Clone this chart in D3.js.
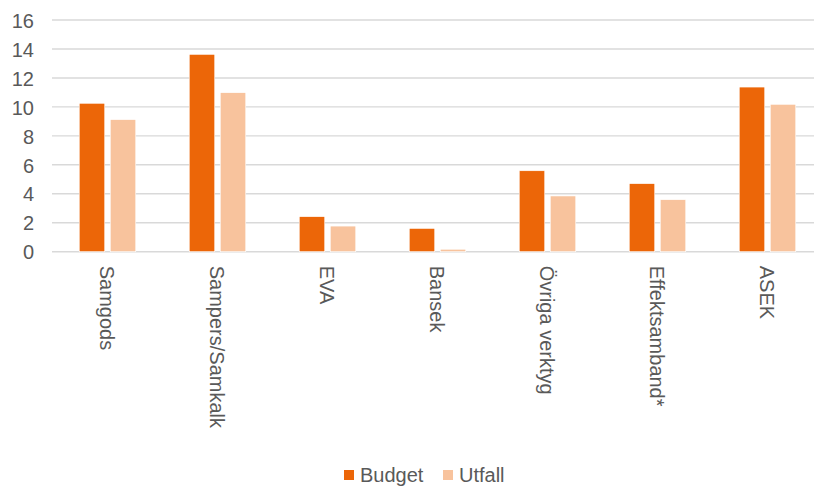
<!DOCTYPE html>
<html>
<head>
<meta charset="utf-8">
<script src="https://cdn.jsdelivr.net/npm/d3@7"></script>
<style>
  html, body { margin: 0; padding: 0; background: #fff; }
  svg { display: block; font-family: "Liberation Sans", Arial, sans-serif; }
</style>
</head>
<body>
<svg id="chart" width="814" height="487"></svg>
<script>
const categories = ["Samgods", "Sampers/Samkalk", "EVA", "Bansek", "Övriga verktyg", "Effektsamband*", "ASEK"];
const seriesNames = ["Budget", "Utfall"];
const budget = [10.25, 13.63, 2.42, 1.61, 5.59, 4.70, 11.37];
const utfall = [9.12, 10.98, 1.77, 0.17, 3.85, 3.59, 10.18];
const yTicks = [0, 2, 4, 6, 8, 10, 12, 14, 16];
const colors = ["#EC6608", "#F8C39D"];

const svg = d3.select("#chart");
const x0 = d3.scaleBand().domain(categories).range([52.5, 822.5]).paddingInner(0.486).paddingOuter(0.243);
const x1 = d3.scaleBand().domain(seriesNames).range([0, x0.bandwidth()]).paddingInner(0.177);
const y = d3.scaleLinear().domain([0, 16]).range([251.7, 20]);

// gridlines
svg.append("g").selectAll("line").data(yTicks).join("line")
  .attr("x1", 52).attr("x2", 814)
  .attr("y1", d => y(d)).attr("y2", d => y(d))
  .attr("stroke", "#d9d9d9").attr("stroke-width", 1.4);

// y axis labels
const yAxis = d3.axisLeft(y).tickValues(yTicks).tickSize(0).tickPadding(0);
const yg = svg.append("g").attr("transform", "translate(34,0)").call(yAxis);
yg.select(".domain").remove();
yg.selectAll("text").attr("font-size", 20).attr("fill", "#595959")
  .attr("font-family", "'Liberation Sans', Arial, sans-serif").attr("dy", "0.36em");

// bars
const data = categories.map((c, i) => ({ cat: c, vals: [budget[i], utfall[i]] }));
const groups = svg.append("g").selectAll("g").data(data).join("g")
  .attr("transform", d => `translate(${x0(d.cat)},0)`);
groups.selectAll("rect").data(d => d.vals.map((v, j) => ({ name: seriesNames[j], v, j })))
  .join("rect")
  .attr("x", d => x1(d.name))
  .attr("width", x1.bandwidth())
  .attr("y", d => y(d.v))
  .attr("height", d => y(0) - y(d.v))
  .attr("fill", d => colors[d.j])
  .attr("stroke", "#ffffff").attr("stroke-width", 0.6);

// x axis labels, rotated
const xAxis = d3.axisBottom(x0).tickSize(0).tickPadding(0);
const xg = svg.append("g").attr("transform", `translate(0,${y(0)})`).call(xAxis);
xg.select(".domain").remove();
xg.selectAll("text")
  .attr("font-size", 20).attr("fill", "#595959")
  .attr("font-family", "'Liberation Sans', Arial, sans-serif")
  .attr("text-anchor", "start")
  .attr("transform", "rotate(90)")
  .attr("x", 14).attr("y", 0).attr("dy", "0.36em");

// legend
const legend = svg.append("g");
const legendItems = [{ name: "Budget", x: 344 }, { name: "Utfall", x: 443 }];
legendItems.forEach((d, i) => {
  legend.append("rect").attr("x", d.x).attr("y", 470).attr("width", 10).attr("height", 10).attr("fill", colors[i]);
  legend.append("text").attr("x", d.x + 16).attr("y", 475).attr("dy", "0.36em")
    .attr("font-size", 20).attr("fill", "#595959").text(d.name);
});
</script>
</body>
</html>
